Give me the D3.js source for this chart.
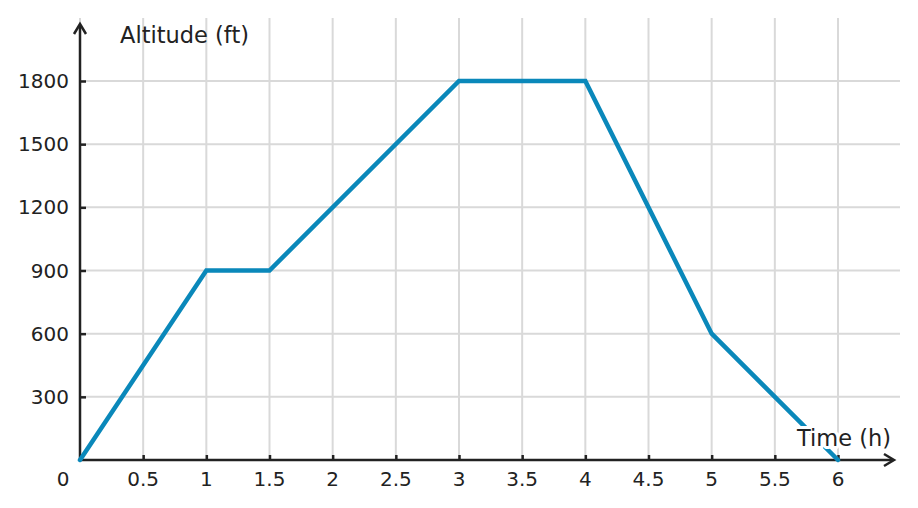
<!DOCTYPE html>
<html><head><meta charset="utf-8">
<script src="https://cdn.jsdelivr.net/npm/d3@7"></script>
<style>
body{margin:0;background:#fff;}
text{font-family:"DejaVu Sans",sans-serif;fill:#222;}
</style></head>
<body><svg id="c" width="918" height="508"></svg>
<script>
const timeH = [0, 1, 1.5, 3, 4, 5, 6];
const altitudeFt = [0, 900, 900, 1800, 1800, 600, 0];
const xTicks = [0.5, 1, 1.5, 2, 2.5, 3, 3.5, 4, 4.5, 5, 5.5, 6];
const yTicks = [300, 600, 900, 1200, 1500, 1800];
const xTitle = "Time (h)";
const yTitle = "Altitude (ft)";

const svg = d3.select("#c");
const x = d3.scaleLinear().domain([0, 6]).range([80, 838]);
const y = d3.scaleLinear().domain([0, 1800]).range([460, 81]);
const gridColor = "#d9d9d9";
const ink = "#222";

// vertical grid
svg.append("g").selectAll("line").data([0].concat(xTicks)).join("line")
  .attr("x1", d => x(d)).attr("x2", d => x(d))
  .attr("y1", 18).attr("y2", y(0))
  .attr("stroke", gridColor).attr("stroke-width", 2);
// horizontal grid
svg.append("g").selectAll("line").data(yTicks).join("line")
  .attr("x1", x(0)).attr("x2", 900)
  .attr("y1", d => y(d)).attr("y2", d => y(d))
  .attr("stroke", gridColor).attr("stroke-width", 2);

// axes with d3 axis (ticks only)
const xAxis = svg.append("g").attr("transform", `translate(0,${y(0)})`)
  .call(d3.axisTop(x).tickValues(xTicks).tickSize(5).tickFormat(""));
xAxis.select(".domain").remove();
xAxis.selectAll(".tick line").attr("stroke", ink).attr("stroke-width", 2.5);
const yAxis = svg.append("g").attr("transform", `translate(${x(0)},0)`)
  .call(d3.axisRight(y).tickValues(yTicks).tickSize(6).tickFormat(""));
yAxis.select(".domain").remove();
yAxis.selectAll(".tick line").attr("stroke", ink).attr("stroke-width", 2.5);

// tick labels
svg.append("g").selectAll("text").data(xTicks).join("text")
  .attr("x", d => x(d)).attr("y", 486)
  .attr("text-anchor", "middle").attr("font-size", 20)
  .text(d => d);
svg.append("text").attr("x", x(0) - 17).attr("y", 486)
  .attr("text-anchor", "middle").attr("font-size", 20).text("0");
svg.append("g").selectAll("text").data(yTicks).join("text")
  .attr("x", 69).attr("y", d => y(d) + 7)
  .attr("text-anchor", "end").attr("font-size", 20)
  .text(d => d);

// axis lines with arrows
svg.append("line").attr("x1", x(0)).attr("x2", 893).attr("y1", y(0)).attr("y2", y(0))
  .attr("stroke", ink).attr("stroke-width", 2.5);
svg.append("path").attr("d", `M884,${y(0)-6}L894,${y(0)}L884,${y(0)+6}`)
  .attr("fill", "none").attr("stroke", ink).attr("stroke-width", 2.5);
svg.append("line").attr("x1", x(0)).attr("x2", x(0)).attr("y1", y(0)).attr("y2", 25)
  .attr("stroke", ink).attr("stroke-width", 2.5);
svg.append("path").attr("d", `M${x(0)-6},34L${x(0)},24L${x(0)+6},34`)
  .attr("fill", "none").attr("stroke", ink).attr("stroke-width", 2.5);

// data line
const line = d3.line().x((d, i) => x(timeH[i])).y(d => y(d));
svg.append("path").datum(altitudeFt).attr("d", line)
  .attr("fill", "none").attr("stroke", "#0a88ba").attr("stroke-width", 4.5)
  .attr("stroke-linecap", "round").attr("stroke-linejoin", "miter");

// titles
svg.append("text").attr("x", 120).attr("y", 43).attr("font-size", 22.5).text(yTitle);
svg.append("text").attr("x", 797).attr("y", 446).attr("font-size", 22.5)
  .attr("stroke", "#fff").attr("stroke-width", 6).attr("paint-order", "stroke")
  .attr("stroke-linejoin", "round").text(xTitle);
</script></body></html>
